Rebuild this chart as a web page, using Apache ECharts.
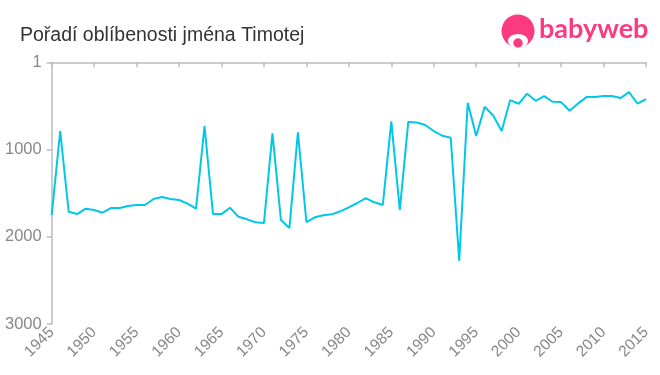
<!DOCTYPE html>
<html><head><meta charset="utf-8">
<script src="https://cdn.jsdelivr.net/npm/echarts@6/dist/echarts.min.js"></script>
<style>html,body{margin:0;padding:0;background:#fff}#c{width:660px;height:375px}</style>
</head><body><div id="c"></div>
<script>
const years = [];
for (let y = 1945; y <= 2015; y++) years.push(y);
const ranks = [1751, 790, 1713, 1740, 1678, 1693, 1724, 1670, 1670, 1647,
  1636, 1636, 1567, 1544, 1567, 1579, 1621, 1678, 731, 1740,
  1740, 1667, 1770, 1800, 1834, 1842, 815, 1808, 1900, 803,
  1831, 1777, 1754, 1743, 1708, 1663, 1613, 1556, 1605, 1636,
  678, 1693, 683, 690, 719, 788, 842, 865, 2278, 464,
  845, 510, 610, 788, 433, 475, 360, 441, 387, 452,
  456, 555, 471, 399, 399, 387, 387, 410, 341, 475, 422];
const yTicks = [0, 1000, 2000, 3000];
const yTickLabels = ['1', '1000', '2000', '3000'];
const titleText = 'Pořadí oblíbenosti jména Timotej';

const chart = echarts.init(document.getElementById('c'), null, {renderer: 'canvas'});
chart.setOption({
  animation: false,
  grid: {left: 51.7, right: 14, top: 62.3, bottom: 51},
  title: {text: titleText, left: 15, top: 21,
    textStyle: {fontFamily: 'Liberation Sans, Arial, sans-serif', fontSize: 19.5, fontWeight: 'normal', color: '#333'}},
  xAxis: {type: 'value', min: 1945, max: 2015, interval: 5,
    axisLine: {lineStyle: {color: '#bbb', width: 1.5}},
    axisTick: {length: 5, lineStyle: {color: '#bbb', width: 1.5}},
    splitLine: {show: false},
    axisLabel: {rotate: 45, color: '#888', fontSize: 15.5, fontFamily: 'Liberation Sans, Arial, sans-serif', margin: 6,
      formatter: v => String(v)}},
  yAxis: {type: 'value', inverse: true, min: 0, max: 3000, interval: 1000,
    axisLine: {show: true, lineStyle: {color: '#bbb', width: 1.5}},
    axisTick: {show: true, length: 5, lineStyle: {color: '#bbb', width: 1.5}},
    splitLine: {show: false},
    axisLabel: {color: '#888', fontSize: 16.5, fontFamily: 'Liberation Sans, Arial, sans-serif', margin: 10,
      formatter: v => { const i = yTicks.indexOf(v); return i >= 0 ? yTickLabels[i] : ''; }}},
  series: [{type: 'line', data: years.map((y, i) => [y, ranks[i]]), symbol: 'none',
    lineStyle: {color: '#00c8e6', width: 2}}],
  graphic: [
    {type: 'circle', shape: {cx: 518, cy: 31, r: 16.5}, style: {fill: '#fb3a80'}},
    {type: 'ellipse', shape: {cx: 518, cy: 41, rx: 10, ry: 7}, style: {fill: '#fff'}},
    {type: 'circle', shape: {cx: 518, cy: 43, r: 5.5}, style: {fill: '#fb3a80', stroke: '#fff', lineWidth: 1.5}},
    {type: 'text', left: 539, top: 16, style: {text: 'babyweb', fill: '#fb3a80', fontSize: 27, fontFamily: 'Lato, Arial, sans-serif', fontWeight: 'bold'}}
  ]
});
</script></body></html>
